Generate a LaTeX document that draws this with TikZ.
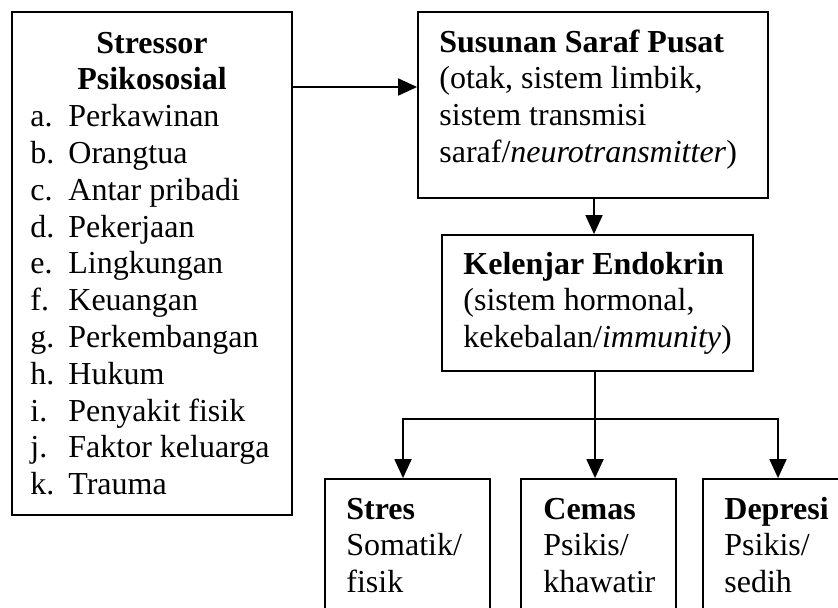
\documentclass[tikz,border=0pt]{standalone}
\usepackage{fontspec}
\setmainfont{Liberation Serif}
\usetikzlibrary{arrows.meta,fit}
\begin{document}
\begin{tikzpicture}[x=0.5pt,y=-0.5pt,
  box/.style={draw,line width=0.9pt,inner sep=0pt},
  txt/.style={anchor=base west,inner sep=0pt,font=\fontsize{16}{18.4}\selectfont},
  ctxt/.style={anchor=base,inner sep=0pt,font=\fontsize{16}{18.4}\selectfont\bfseries},
  arr/.style={line width=0.9pt,-{Triangle[length=9.5pt,width=8.5pt]}}]
\useasboundingbox (0,0) rectangle (838,607);
\clip (0,0) rectangle (838,607);
% boxes
\node[box,fit={(12,12) (292,515)}] (L) {};
\node[box,fit={(418,12) (768,198)}] (SSP) {};
\node[box,fit={(442,235) (753,371)}] (KE) {};
\node[box,fit={(325,479) (490,660)}] (ST) {};
\node[box,fit={(521,479) (676,660)}] (CE) {};
\node[box,fit={(703,479) (860,660)}] (DE) {};
% left box text
\node[ctxt] (t1) at (152,53) {Stressor};
\node[ctxt] (t2) at (152,89.8) {Psikososial};
\foreach \l/\t [count=\i from 0] in {a./Perkawinan,b./Orangtua,c./Antar pribadi,d./Pekerjaan,e./Lingkungan,f./Keuangan,g./Perkembangan,h./Hukum,i./Penyakit fisik,j./Faktor keluarga,k./Trauma}{
  \pgfmathsetmacro\yy{126.6+36.8*\i}
  \node[txt] (lab\i) at (30,\yy) {\l};
  \node[txt] (item\i) at (68,\yy) {\t};
}
% SSP text
\node[txt] (s1) at (439,52) {\bfseries Susunan Saraf Pusat};
\node[txt] (s2) at (439,88.8) {(otak, sistem limbik,};
\node[txt] (s3) at (439,125.6) {sistem transmisi};
\node[txt] (s4) at (439,162.4) {saraf/\textit{neurotransmitter})};
% KE text
\node[txt] (k1) at (463,274) {\bfseries Kelenjar Endokrin};
\node[txt] (k2) at (463,310.8) {(sistem hormonal,};
\node[txt] (k3) at (463,347.6) {kekebalan/\textit{immunity})};
% bottom boxes text
\node[txt] (a1) at (346,519) {\bfseries Stres};
\node[txt] (a2) at (346,555.8) {Somatik/};
\node[txt] (a3) at (346,592.6) {fisik};
\node[txt] (b1) at (543,519) {\bfseries Cemas};
\node[txt] (b2) at (543,555.8) {Psikis/};
\node[txt] (b3) at (543,592.6) {khawatir};
\node[txt] (c1) at (724,519) {\bfseries Depresi};
\node[txt] (c2) at (724,555.8) {Psikis/};
\node[txt] (c3) at (724,592.6) {sedih};
% connectors
\coordinate (ya) at (0,87);
\coordinate (xs) at (594,0);
\coordinate (xk) at (595,0);
\coordinate (j) at (595,419);
\coordinate (xst) at (403,0);
\coordinate (xde) at (778,0);
\draw[arr] (L.east |- ya) -- (SSP.west |- ya);
\draw[arr] (xs |- SSP.south) -- (xs |- KE.north);
\draw[arr] (xk |- KE.south) -- (xk |- CE.north);
\draw[arr] (j) -| (xst |- ST.north);
\draw[arr] (j) -| (xde |- DE.north);
\end{tikzpicture}
\end{document}
